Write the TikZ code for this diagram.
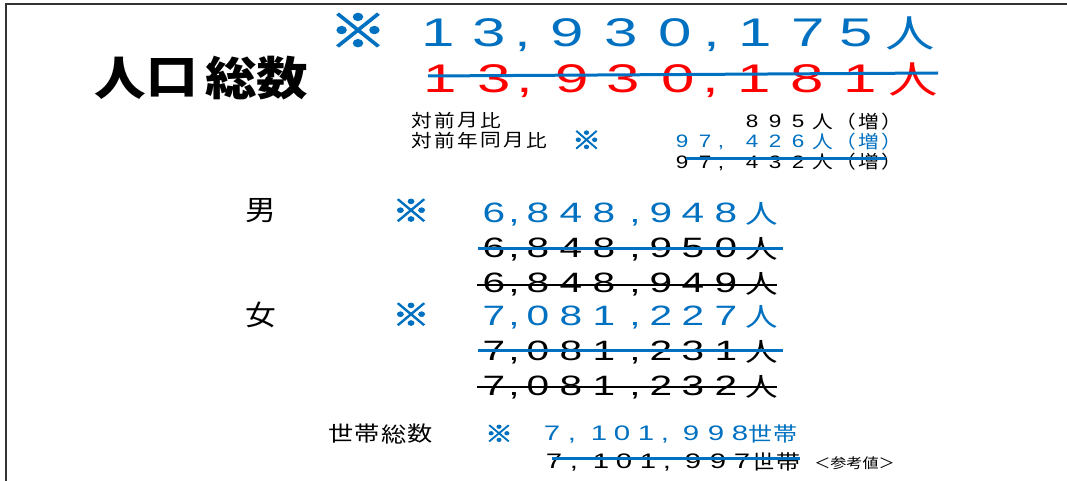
\documentclass[tikz,border=0pt]{standalone}
\usepackage{fontspec}
\setmainfont{Liberation Sans}
\newfontfamily\cj{Noto Sans CJK JP}
\newfontfamily\komef{Noto Sans CJK JP}[FakeBold=3]
\definecolor{xblue}{HTML}{0070C0}
\definecolor{xred}{HTML}{FF0000}
\definecolor{framec}{HTML}{333333}
\newcommand\fs[1]{\fontsize{#1}{#1}\selectfont}
\newcommand\glyphs[5]{\foreach \c/\x [count=\i] in {#5}{\node[gl,#2] (#1-\i) at (\x,#4) {\scalebox{#3}[1]{\c}};}}
\begin{document}
\begin{tikzpicture}[x=1pt,y=-1pt,
  gl/.style={anchor=base,inner sep=0pt,outer sep=0pt},
  ctr/.style={anchor=center,inner sep=0pt,outer sep=0pt},
  kome/.style={ctr,text=xblue},
  strikeb/.style={draw=xblue,line width=3pt},
  strikek/.style={draw=black,line width=1.5pt}]
\useasboundingbox (0,0) rectangle (1067,481);
% frame
\draw[framec,line width=2pt] (5.5,481) -- (5.5,4) -- (1067,4);

% title
\glyphs{ttl}{ctr,font=\cj\bfseries\fs{46}}{1.12}{78}{人/120,口/172,総/231,数/282}

% big blue row
\node[kome,font=\komef\fs{46}] (kome0) at (358,30.5) {\scalebox{1.25}[1]{※}};
\glyphs{tb}{font=\fs{40},text=xblue}{1.5}{47}{1/438,3/489,{,}/523,9/567,3/621,0/675,{,}/712,1/755,7/808,5/856}
\node[gl,font=\cj\fs{38},text=xblue] (tbn) at (910,48) {\scalebox{1.3}[1]{人}};

% big red row
\glyphs{tr}{font=\fs{40},text=xred}{1.5}{93}{1/440,3/494,{,}/525,9/572,3/623,0/678,{,}/711,1/754,8/807,1/860}
\node[gl,font=\cj\fs{38},text=xred] (trn) at (913,94) {\scalebox{1.3}[1]{人}};
\draw[strikeb] (428,76) -- (938,73);

% small rows
\glyphs{la}{ctr,font=\cj\fs{18}}{1.15}{120.5}{対/422,前/445,月/468,比/491}
\glyphs{lb}{ctr,font=\cj\fs{18}}{1.15}{140.5}{対/422,前/445,年/468,同/491,月/514,比/537}
\node[kome,font=\komef\fs{25}] (kome1) at (586.5,140) {\scalebox{1.15}[1]{※}};

\glyphs{ra}{font=\fs{18}}{1.25}{128}{8/752,9/775,5/798}
\glyphs{rak}{font=\cj\fs{18}}{1.15}{129}{人/823,（/846,増/869,）/892}
\glyphs{rb}{font=\fs{18},text=xblue}{1.25}{148}{9/682,7/705,{,}/721,4/752,2/775,6/798}
\glyphs{rbk}{font=\cj\fs{18},text=xblue}{1.15}{149}{人/823,（/846,増/869,）/892}
\glyphs{rc}{font=\fs{18}}{1.25}{168}{9/682,7/705,{,}/721,4/752,3/775,2/798}
\glyphs{rck}{font=\cj\fs{18}}{1.15}{169}{人/823,（/846,増/869,）/892}
\draw[strikeb] (686,159) -- (886,159);

% male
\node[ctr,font=\cj\fs{28}] (otoko) at (261,210.5) {\scalebox{1.1}[1]{男}};
\node[kome,font=\komef\fs{31}] (kome2) at (411,210.5) {\scalebox{1.2}[1]{※}};
\glyphs{m1}{font=\fs{28},text=xblue}{1.45}{222}{6/494,{,}/514,8/538,4/571,8/604,{,}/635,9/661,4/693,8/726}
\node[gl,font=\cj\fs{26},text=xblue] (m1n) at (762,223) {\scalebox{1.25}[1]{人}};
\glyphs{m2}{font=\fs{28}}{1.45}{257}{6/494,{,}/514,8/538,4/571,8/604,{,}/635,9/661,5/693,0/726}
\node[gl,font=\cj\fs{26}] (m2n) at (762,258) {\scalebox{1.25}[1]{人}};
\draw[strikeb] (478,248) -- (783,248);
\glyphs{m3}{font=\fs{28}}{1.45}{292}{6/494,{,}/514,8/538,4/571,8/604,{,}/635,9/661,4/693,9/726}
\node[gl,font=\cj\fs{26}] (m3n) at (762,293) {\scalebox{1.25}[1]{人}};
\draw[strikek] (477,285) -- (777,285);

% female
\node[ctr,font=\cj\fs{28}] (onna) at (261,314.5) {\scalebox{1.1}[1]{女}};
\node[kome,font=\komef\fs{31}] (kome3) at (411,314.5) {\scalebox{1.2}[1]{※}};
\glyphs{f1}{font=\fs{28},text=xblue}{1.45}{325}{7/494,{,}/514,0/538,8/571,1/604,{,}/635,2/661,2/693,7/726}
\node[gl,font=\cj\fs{26},text=xblue] (f1n) at (762,326) {\scalebox{1.25}[1]{人}};
\glyphs{f2}{font=\fs{28}}{1.45}{360}{7/494,{,}/514,0/538,8/571,1/604,{,}/635,2/661,3/693,1/726}
\node[gl,font=\cj\fs{26}] (f2n) at (762,361) {\scalebox{1.25}[1]{人}};
\draw[strikeb] (478,350) -- (783,350);
\glyphs{f3}{font=\fs{28}}{1.45}{395}{7/494,{,}/514,0/538,8/571,1/604,{,}/635,2/661,3/693,2/726}
\node[gl,font=\cj\fs{26}] (f3n) at (762,396) {\scalebox{1.25}[1]{人}};
\draw[strikek] (477,387) -- (777,387);

% households
\glyphs{hh}{ctr,font=\cj\fs{21}}{1.2}{434}{世/341.5,帯/367.5,総/394,数/420.5}
\node[kome,font=\komef\fs{23}] (kome4) at (499,433.5) {\scalebox{1.2}[1]{※}};
\glyphs{h1}{font=\fs{21},text=xblue}{1.4}{440}{7/552,{,}/572,1/599,0/622,1/646,{,}/665,9/691,9/716,8/740}
\glyphs{h1k}{font=\cj\fs{20},text=xblue}{1.2}{441}{世/760,帯/785}
\glyphs{h2}{font=\fs{21}}{1.4}{468}{7/554,{,}/574,1/601,0/624,1/648,{,}/667,9/693,9/718,7/742}
\glyphs{h2k}{font=\cj\fs{20}}{1.2}{469}{世/763,帯/788}
\draw[strikeb] (552,458) -- (800,458);
\node[ctr,font=\cj\fs{14}] (sanko) at (854.5,463) {\scalebox{1.15}[1]{＜参考値＞}};
\end{tikzpicture}
\end{document}
